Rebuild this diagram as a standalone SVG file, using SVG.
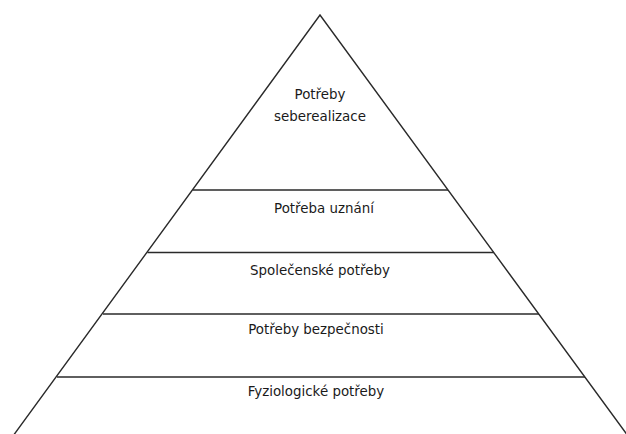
<svg xmlns="http://www.w3.org/2000/svg" width="626" height="434" viewBox="0 0 626 434">
<style>
.ln{stroke:#2a2a2a;stroke-width:1.4;fill:none}
.t{font-family:"DejaVu Sans",Verdana,sans-serif;font-size:13.4px;fill:#1a1a1a;text-anchor:middle}
</style>
<rect width="626" height="434" fill="#fff"/>
<g id="connectors">
<path class="ln" d="M13,436 L320,15 L628,436"/>
<line class="ln" x1="193" y1="190" x2="448" y2="190"/>
<line class="ln" x1="147.5" y1="252.5" x2="494" y2="252.5"/>
<line class="ln" x1="103" y1="314" x2="539" y2="314"/>
<line class="ln" x1="57" y1="377" x2="585" y2="377"/>
</g>
<g id="level5"><text class="t" x="320" y="99">Potřeby</text><text class="t" x="320" y="121">seberealizace</text></g>
<g id="level4"><text class="t" x="324" y="213">Potřeba uznání</text></g>
<g id="level3"><text class="t" x="320" y="275">Společenské potřeby</text></g>
<g id="level2"><text class="t" x="316" y="334">Potřeby bezpečnosti</text></g>
<g id="level1"><text class="t" x="316" y="396">Fyziologické potřeby</text></g>
</svg>
